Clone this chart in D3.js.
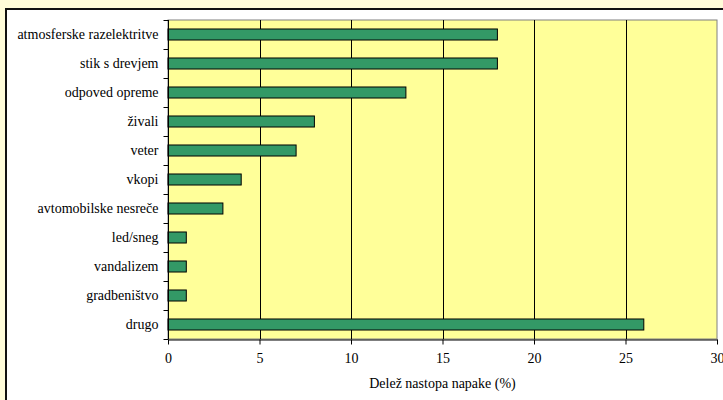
<!DOCTYPE html>
<html>
<head>
<meta charset="utf-8">
<script src="https://cdn.jsdelivr.net/npm/d3@7"></script>
<style>
  html, body { margin: 0; padding: 0; background: #fffcd9; }
  svg { display: block; }
</style>
</head>
<body>
<svg id="chart" width="723" height="400"></svg>
<script>
// Vzroki napak in njihov delež (%)
const categories = [
  "atmosferske razelektritve",
  "stik s drevjem",
  "odpoved opreme",
  "živali",
  "veter",
  "vkopi",
  "avtomobilske nesreče",
  "led/sneg",
  "vandalizem",
  "gradbeništvo",
  "drugo"
];
const shares = [18, 18, 13, 8, 7, 4, 3, 1, 1, 1, 26];
const xTicks = [0, 5, 10, 15, 20, 25, 30];
const xTitle = "Delež nastopa napake (%)";

const FONT = "'Liberation Serif', 'Times New Roman', Times, serif";
const FS = "14px";

const svg = d3.select("#chart");
const W = 723, H = 400;

// outer frame: cream background with white inner panel
svg.append("rect").attr("x", 0).attr("y", 0).attr("width", W).attr("height", H).attr("fill", "#fffcd9");
svg.append("rect").attr("x", 6).attr("y", 9).attr("width", W).attr("height", H)
  .attr("fill", "#ffffff").attr("stroke", "#111").attr("stroke-width", 2);

const plot = { left: 168, top: 20, right: 717, bottom: 339 };

const x = d3.scaleLinear().domain([0, 30]).range([plot.left, plot.right]);
const y = d3.scaleBand().domain(categories).range([plot.top, plot.bottom]).paddingInner(0.62).paddingOuter(0.31);
const yBand = d3.scaleBand().domain(categories).range([plot.top, plot.bottom]);

// plot area
svg.append("rect")
  .attr("x", plot.left).attr("y", plot.top)
  .attr("width", plot.right - plot.left).attr("height", plot.bottom - plot.top)
  .attr("fill", "#ffff99").attr("stroke", "#808080").attr("stroke-width", 1);

// vertical gridlines
svg.append("g").selectAll("line")
  .data(xTicks.filter(t => t > 0 && t < 30))
  .join("line")
  .attr("x1", d => Math.round(x(d)) + 0.5).attr("x2", d => Math.round(x(d)) + 0.5)
  .attr("y1", plot.top).attr("y2", plot.bottom)
  .attr("stroke", "#000").attr("stroke-width", 1);

// bars
svg.append("g").selectAll("rect")
  .data(categories.map((c, i) => ({ c, v: shares[i] })))
  .join("rect")
  .attr("x", x(0))
  .attr("y", d => y(d.c))
  .attr("width", d => x(d.v) - x(0))
  .attr("height", y.bandwidth())
  .attr("fill", "#339966")
  .attr("stroke", "#000").attr("stroke-width", 1);

// x axis
const xAxis = d3.axisBottom(x).tickValues(xTicks).tickSize(5).tickPadding(9).tickSizeOuter(0);
const gx = svg.append("g").attr("transform", `translate(0,${plot.bottom + 0.5})`).call(xAxis);
gx.select(".domain").attr("stroke", "#000");
gx.selectAll(".tick line").attr("stroke", "#000");
gx.selectAll("text").style("font-family", FONT).style("font-size", FS).attr("fill", "#000");

// y axis with ticks at category boundaries
const gy = svg.append("g").attr("transform", `translate(${plot.left + 0.5},0)`);
gy.append("line").attr("x1", 0).attr("x2", 0).attr("y1", plot.top).attr("y2", plot.bottom).attr("stroke", "#000");
const bounds = categories.map(c => yBand(c)).concat([plot.bottom]);
gy.selectAll("line.tk").data(bounds).join("line").attr("class", "tk")
  .attr("x1", -5).attr("x2", 0)
  .attr("y1", d => Math.round(d) + 0.5).attr("y2", d => Math.round(d) + 0.5)
  .attr("stroke", "#000");
gy.selectAll("text").data(categories).join("text")
  .attr("x", -10)
  .attr("y", d => yBand(d) + yBand.bandwidth() / 2)
  .attr("dy", "0.35em")
  .attr("text-anchor", "end")
  .style("font-family", FONT).style("font-size", FS)
  .attr("fill", "#000")
  .text(d => d);

// x title
svg.append("text")
  .attr("x", (plot.left + plot.right) / 2)
  .attr("y", 388)
  .attr("text-anchor", "middle")
  .style("font-family", FONT).style("font-size", FS)
  .attr("fill", "#000")
  .text(xTitle);
</script>
</body>
</html>
